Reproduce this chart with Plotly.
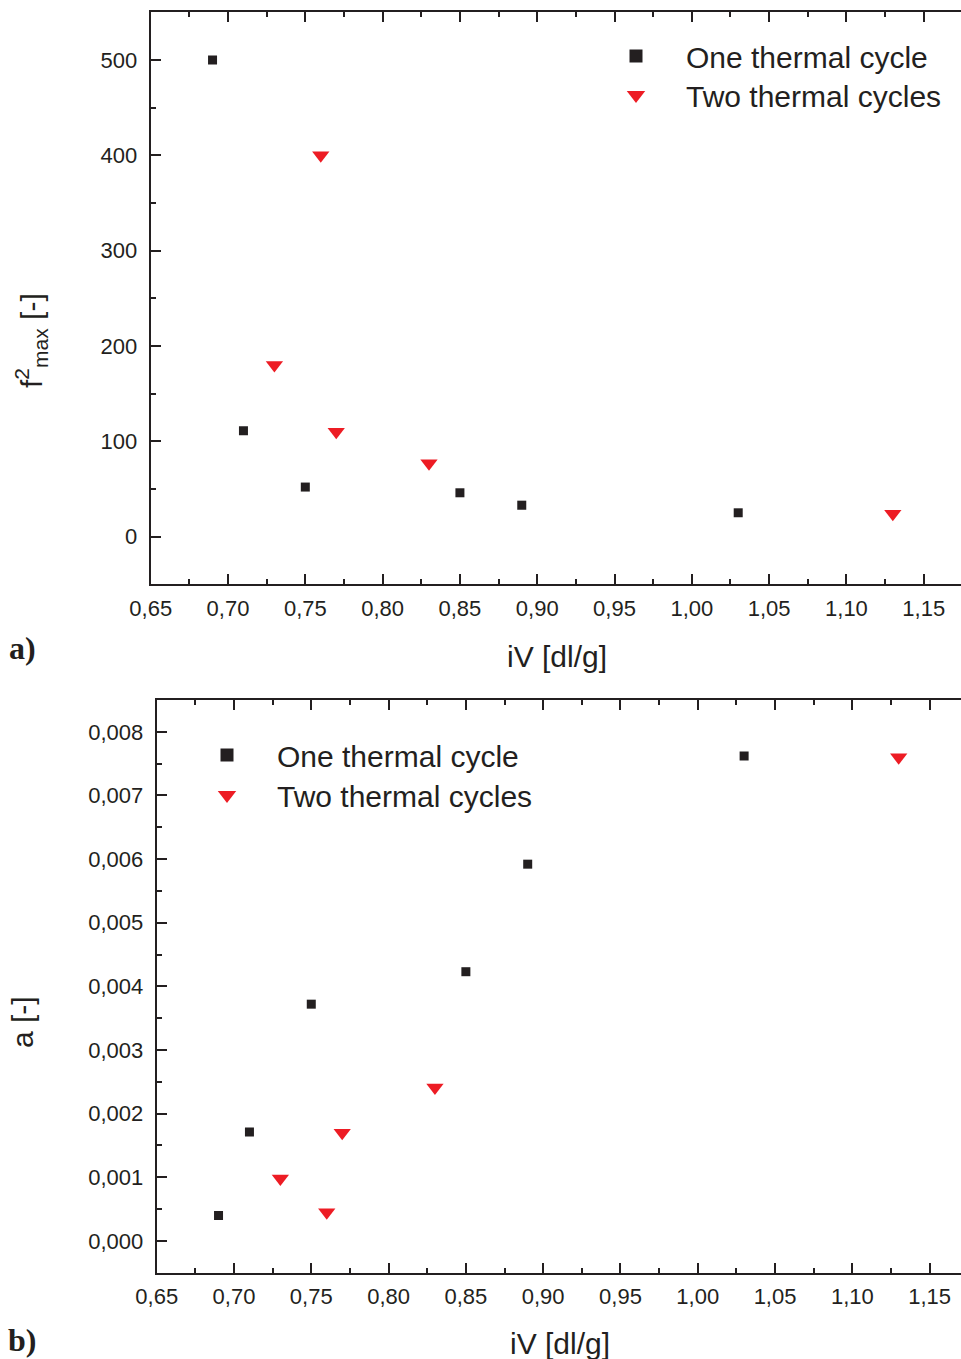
import plotly.graph_objects as go

# ---------------- data ----------------
iv_one = [0.69, 0.71, 0.75, 0.85, 0.89, 1.03]
f2max_one = [500, 111, 52, 46, 33, 25]
a_one = [0.0004, 0.00171, 0.00372, 0.00423, 0.00592, 0.00762]

iv_two = [0.73, 0.76, 0.77, 0.83, 1.13]
f2max_two = [180, 400, 110, 77, 24]
a_two = [0.00098, 0.00045, 0.0017, 0.00241, 0.0076]

name_one = "One thermal cycle"
name_two = "Two thermal cycles"

W, H = 961, 1359
BLACK = "#231f20"
RED = "#ed1c24"
FONT = "Liberation Sans, Arial, sans-serif"


def px(x):
    return x / W


def py(y):
    return 1 - y / H


fig = go.Figure()

sq = dict(symbol="square", size=9, color=BLACK)
tri = dict(symbol="triangle-down", size=15, color=RED)
sq_leg = dict(symbol="square", size=13, color=BLACK)
tri_leg = dict(symbol="triangle-down", size=17, color=RED)

# data traces
fig.add_trace(go.Scatter(x=iv_one, y=f2max_one, mode="markers", name=name_one,
                         marker=sq, xaxis="x", yaxis="y", showlegend=False))
fig.add_trace(go.Scatter(x=iv_two, y=f2max_two, mode="markers", name=name_two,
                         marker=tri, xaxis="x", yaxis="y", showlegend=False))
fig.add_trace(go.Scatter(x=iv_one, y=a_one, mode="markers", name=name_one,
                         marker=sq, xaxis="x2", yaxis="y2", showlegend=False))
fig.add_trace(go.Scatter(x=iv_two, y=a_two, mode="markers", name=name_two,
                         marker=tri, xaxis="x2", yaxis="y2", showlegend=False))

# legend entries (larger symbols, as in the reference legends)
for nm, mk, xa, ya, lg in [(name_one, sq_leg, "x", "y", "legend"),
                           (name_two, tri_leg, "x", "y", "legend3"),
                           (name_one, sq_leg, "x2", "y2", "legend2"),
                           (name_two, tri_leg, "x2", "y2", "legend4")]:
    fig.add_trace(go.Scatter(x=[None], y=[None], mode="markers", name=nm,
                             marker=mk, xaxis=xa, yaxis=ya, legend=lg,
                             showlegend=True))

common = dict(showline=True, linecolor=BLACK, linewidth=2, ticks="inside",
              tickcolor=BLACK, tickwidth=2, ticklen=10, showgrid=False,
              zeroline=False, automargin=False,
              tickfont=dict(family=FONT, size=22, color=BLACK))
minor = dict(ticks="inside", ticklen=5, tickwidth=2, tickcolor=BLACK, showgrid=False)

top_dom_y = [py(584.3), py(12.3)]
bot_dom_y = [py(1272.7), py(700)]


def leg(x, y):
    return dict(x=px(x), y=py(y), xanchor="left", yanchor="top",
                bgcolor="rgba(0,0,0,0)", borderwidth=0, itemwidth=90,
                itemsizing="trace",
                font=dict(family=FONT, size=30, color=BLACK))


fig.update_layout(
    width=W, height=H,
    margin=dict(l=0, r=0, t=0, b=0, autoexpand=False),
    paper_bgcolor="white", plot_bgcolor="white",
    separators=",.",
    showlegend=True,
    font=dict(family=FONT, color=BLACK),
    xaxis=dict(domain=[px(150.7), 1], range=[0.65, 1.1741], anchor="y",
               dtick=0.05, tick0=0.65, tickformat=".2f", mirror="ticks",
               minor=dict(dtick=0.025, **minor), ticklabelstandoff=3, **common),
    yaxis=dict(domain=top_dom_y, range=[-50, 550], anchor="x",
               dtick=100, tick0=0, mirror=False,
               minor=dict(dtick=50, **minor), ticklabelstandoff=7, **common),
    yaxis3=dict(overlaying="y", side="right", anchor="x", range=[-50, 550],
                showline=False, ticks="inside", ticklen=10, tickwidth=2,
                tickcolor=BLACK, dtick=100, tick0=0, showticklabels=False,
                showgrid=False, zeroline=False, automargin=False,
                minor=dict(dtick=50, **minor)),
    xaxis2=dict(domain=[px(156.7), 1], range=[0.65, 1.1703], anchor="y2",
                dtick=0.05, tick0=0.65, tickformat=".2f", mirror="ticks",
                minor=dict(dtick=0.025, **minor), ticklabelstandoff=3, **common),
    yaxis2=dict(domain=bot_dom_y, range=[-0.0005, 0.0085], anchor="x2",
                dtick=0.001, tick0=0, tickformat=".3f", mirror=False,
                minor=dict(dtick=0.0005, **minor), ticklabelstandoff=7, **common),
    yaxis4=dict(overlaying="y2", side="right", anchor="x2", range=[-0.0005, 0.0085],
                showline=False, ticks="inside", ticklen=4, tickwidth=2,
                tickcolor=BLACK, dtick=0.001, tick0=0, showticklabels=False,
                showgrid=False, zeroline=False, automargin=False),
    legend=leg(586, 30),
    legend3=leg(586, 69),
    legend2=leg(177, 729),
    legend4=leg(177, 769),
)

annots = [
    dict(text="iV [dl/g]", x=px(557), y=py(656), size=30, angle=0, fam=FONT),
    dict(text="iV [dl/g]", x=px(560), y=py(1343), size=30, angle=0, fam=FONT),
    dict(text="f<sup>2</sup><sub>max</sub> [-]", x=px(31), y=py(341), size=30, angle=-90, fam=FONT),
    dict(text="a [-]", x=px(22), y=py(1022), size=30, angle=-90, fam=FONT),
    dict(text="<b>a)</b>", x=px(22), y=py(648), size=32, angle=0, fam="Liberation Serif, Times New Roman, serif"),
    dict(text="<b>b)</b>", x=px(22), y=py(1340), size=32, angle=0, fam="Liberation Serif, Times New Roman, serif"),
]
for a in annots:
    fig.add_annotation(text=a["text"], x=a["x"], y=a["y"], xref="paper", yref="paper",
                       xanchor="center", yanchor="middle", showarrow=False,
                       textangle=a["angle"],
                       font=dict(family=a["fam"], size=a["size"], color=BLACK))

fig.write_html("out.html")
